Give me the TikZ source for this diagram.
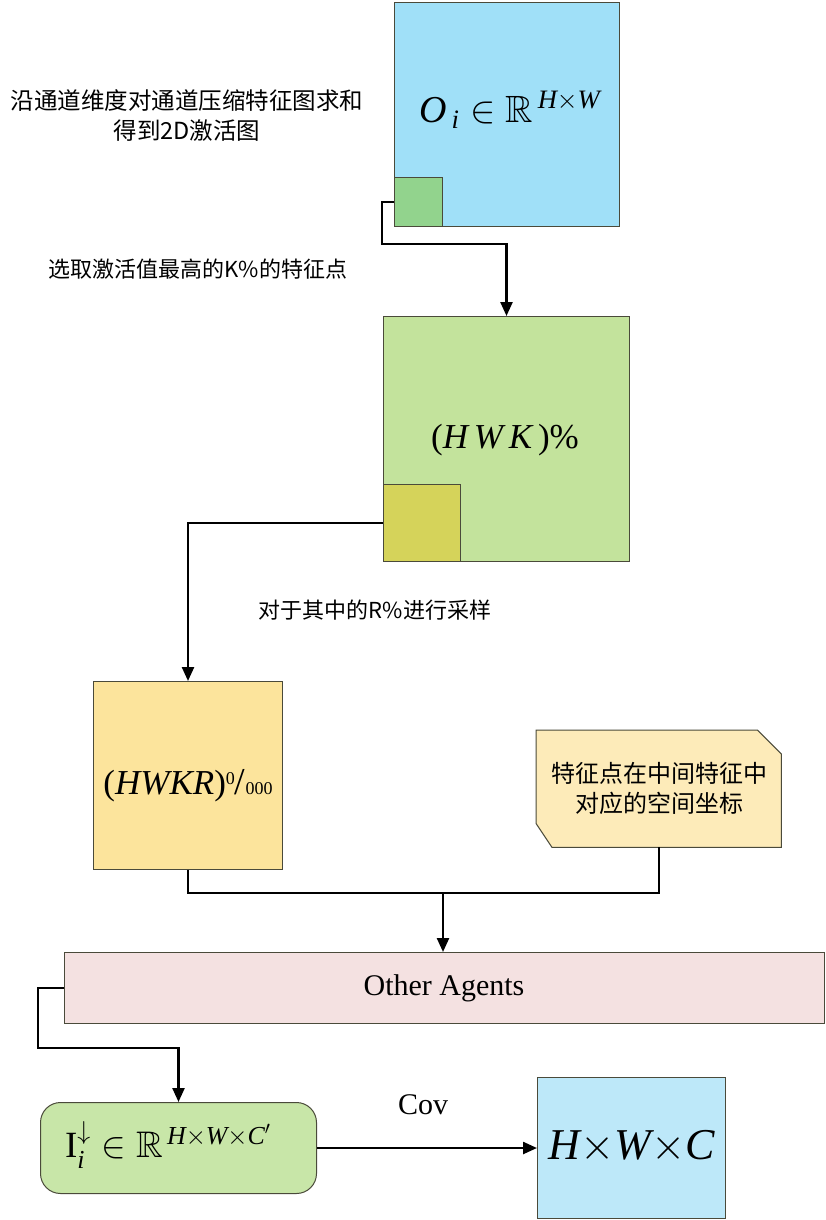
\RequirePackage{fix-cm}
\documentclass[tikz,border=0pt]{standalone}
\usepackage{amsmath,amssymb}
\usepackage{fontspec}
\setmainfont{Liberation Serif}
\newfontfamily\cjk{Noto Sans CJK SC}
\usetikzlibrary{arrows.meta}
\newcommand{\mi}[1]{\textit{#1}}
\newcommand{\pertenk}{{\raisebox{0.3em}{\fontsize{18}{18}\selectfont 0}{\fontsize{38}{38}\selectfont /}{\fontsize{18}{18}\selectfont 000}}}
\definecolor{cTopBlue}{HTML}{A0E0F8}
\definecolor{cSmallGreen}{HTML}{92D38D}
\definecolor{cBigGreen}{HTML}{C3E39C}
\definecolor{cOlive}{HTML}{D5D35A}
\definecolor{cYellow}{HTML}{FCE49C}
\definecolor{cNote}{HTML}{FDEBB9}
\definecolor{cPink}{HTML}{F4E1E1}
\definecolor{cRound}{HTML}{C8E6A8}
\definecolor{cBotBlue}{HTML}{BDE8F9}
\definecolor{cBorder}{HTML}{4A4A3A}
\tikzset{
  blk/.style={draw=cBorder, line width=1pt, inner sep=0pt, anchor=north west},
  arr/.style={draw=black, line width=2.4pt, -{Triangle[length=14pt,width=12pt]}},
  ln/.style={draw=black, line width=2.4pt},
  cjktext/.style={font=\cjk\fontsize{22}{30}\selectfont, align=center},
}
\begin{document}
\begin{tikzpicture}[x=1pt,y=-1pt]
\useasboundingbox[fill=white] (0,0) rectangle (825,1220);

% top blue box
\node[blk, fill=cTopBlue, minimum width=225pt, minimum height=224pt] (O) at (394,2) {};
\node[blk, fill=cSmallGreen, minimum width=48pt, minimum height=49pt] (s1) at (394,177) {};
\node[font=\fontsize{38}{42}\selectfont] (Otext) at (510,110) {$\mi{O}_{\,\mi{i}} \in \mathbb{R}^{\,\mi{H}\times \mi{W}}$};

\node[cjktext, font=\cjk\fontsize{23.5}{30}\selectfont] (t1) at (187,116) {沿通道维度对通道压缩特征图求和\\得到2D激活图};
\node[cjktext] (t2) at (198,269) {选取激活值最高的K\%的特征点};

% big green box
\node[blk, fill=cBigGreen, minimum width=246pt, minimum height=245pt] (G) at (383,316) {};
\node[blk, fill=cOlive, minimum width=77pt, minimum height=77pt] (s2) at (383,484) {};
\node[font=\fontsize{35}{40}\selectfont] (Gtext) at (505,440) {(\mi{H\,W\,K\,})\%};

\node[cjktext] (t3) at (375,610) {对于其中的R\%进行采样};

% yellow box
\node[blk, fill=cYellow, minimum width=189pt, minimum height=188pt] (Y) at (93,681) {};
\node[font=\fontsize{35}{42}\selectfont] (Ytext) at (188,786) {(\mi{HWKR})\pertenk};

% snipped note
\node[inner sep=0pt, minimum width=245pt, minimum height=117pt, anchor=north west] (N) at (536,730) {};
\path[draw=cBorder, line width=1pt, fill=cNote]
  (N.north west) -- ([xshift=-24pt]N.north east) -- ([yshift=-24pt]N.north east)
  -- (N.south east) -- ([xshift=16pt]N.south west) -- ([yshift=24pt]N.south west) -- cycle;
\node[cjktext, font=\cjk\fontsize{24}{30}\selectfont] (Ntext) at (659,788) {特征点在中间特征中\\对应的空间坐标};

% other agents
\node[blk, fill=cPink, minimum width=760pt, minimum height=71pt] (OA) at (64,952) {};
\node[font=\fontsize{30}{34}\selectfont] (OAtext) at (444,988) {Other Agents};

% rounded box
\node[blk, fill=cRound, rounded corners=20pt, minimum width=276pt, minimum height=91pt] (R) at (40,1102) {};
\node[font=\fontsize{37}{42}\selectfont] (Rtext) at (168,1145) {$\mathrm{I}_{\mi{i}}^{\downarrow} \in \mathbb{R}^{\,\mi{H}\times \mi{W}\times \mi{C}'}$};

% bottom blue box
\node[blk, fill=cBotBlue, minimum width=188pt, minimum height=141pt] (B) at (537,1077) {};
\node[font=\fontsize{44}{50}\selectfont] (Btext) at (632,1147) {$\mi{H}{\times}\mi{W}{\times}\mi{C}$};

\node[font=\fontsize{30}{34}\selectfont] (cov) at (423,1105) {Cov};

% connectors
\coordinate (k1) at (382,244);
\draw[arr] (s1.west) -| (k1) -| (G.north);
\draw[arr] (s2.west) -| (Y.north);
\coordinate (m) at (443,893);
\draw[ln] (Y.south) |- (m);
\draw[ln] (N.south) |- (m);
\draw[arr] (m) -- (m |- OA.north);
\coordinate (k3) at (38,1048);
\draw[arr] (OA.west) -| (k3) -| (R.north);
\draw[arr] (R.east) -- (B.west);
\end{tikzpicture}
\end{document}
